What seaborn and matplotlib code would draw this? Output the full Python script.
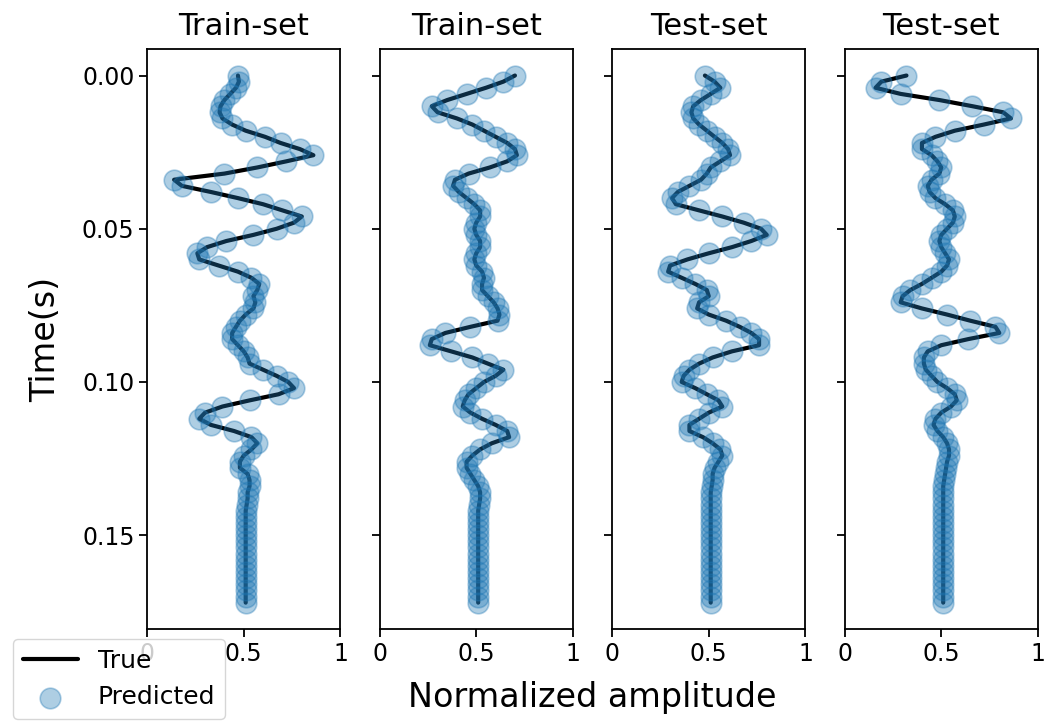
import numpy as np
import matplotlib.pyplot as plt
import seaborn as sns

# time axis: 2 ms sampling, 0 - 0.172 s
time_s = np.round(np.arange(87) * 0.002, 3)

titles = ['Train-set', 'Train-set', 'Test-set', 'Test-set']

# normalized amplitude of each trace
trace_1 = [0.47, 0.475, 0.46, 0.43, 0.40, 0.38, 0.375, 0.39, 0.44, 0.51,
           0.61, 0.69, 0.79, 0.86, 0.72, 0.57, 0.40, 0.14, 0.18, 0.33,
           0.47, 0.60, 0.70, 0.80, 0.76, 0.67, 0.55, 0.41, 0.31, 0.26,
           0.27, 0.37, 0.47, 0.54, 0.58, 0.57, 0.55, 0.56, 0.55, 0.51,
           0.48, 0.46, 0.44, 0.44, 0.47, 0.50, 0.52, 0.53, 0.60, 0.67,
           0.73, 0.76, 0.68, 0.53, 0.39, 0.30, 0.27, 0.33, 0.45, 0.54,
           0.57, 0.54, 0.50, 0.48, 0.48, 0.52, 0.53, 0.53, 0.52, 0.52,
           0.515, 0.51, 0.51, 0.51, 0.51, 0.51, 0.51, 0.51, 0.51, 0.51,
           0.51, 0.51, 0.51, 0.51, 0.51, 0.51, 0.51]

trace_2 = [0.70, 0.64, 0.55, 0.45, 0.35, 0.27, 0.30, 0.40, 0.48, 0.54,
           0.60, 0.66, 0.70, 0.71, 0.66, 0.57, 0.46, 0.39, 0.38, 0.41,
           0.45, 0.49, 0.52, 0.52, 0.50, 0.49, 0.50, 0.52, 0.52, 0.50,
           0.49, 0.50, 0.53, 0.54, 0.53, 0.53, 0.56, 0.59, 0.61, 0.62,
           0.61, 0.47, 0.34, 0.27, 0.26, 0.37, 0.48, 0.56, 0.64, 0.60,
           0.54, 0.50, 0.46, 0.44, 0.43, 0.47, 0.53, 0.60, 0.66, 0.67,
           0.58, 0.52, 0.48, 0.45, 0.45, 0.47, 0.49, 0.51, 0.52, 0.52,
           0.515, 0.51, 0.51, 0.51, 0.51, 0.51, 0.51, 0.51, 0.51, 0.51,
           0.51, 0.51, 0.51, 0.51, 0.51, 0.51, 0.51]

trace_3 = [0.48, 0.53, 0.56, 0.51, 0.46, 0.42, 0.41, 0.42, 0.45, 0.49,
           0.53, 0.57, 0.60, 0.61, 0.56, 0.51, 0.49, 0.46, 0.40, 0.34,
           0.31, 0.33, 0.45, 0.57, 0.68, 0.77, 0.80, 0.72, 0.62, 0.50,
           0.39, 0.30, 0.29, 0.36, 0.43, 0.49, 0.50, 0.45, 0.44, 0.50,
           0.59, 0.66, 0.72, 0.76, 0.76, 0.62, 0.52, 0.45, 0.40, 0.37,
           0.36, 0.43, 0.49, 0.55, 0.57, 0.50, 0.45, 0.40, 0.40, 0.47,
           0.52, 0.56, 0.57, 0.55, 0.53, 0.52, 0.52, 0.515, 0.51, 0.51,
           0.51, 0.51, 0.51, 0.51, 0.51, 0.51, 0.51, 0.51, 0.51, 0.51,
           0.51, 0.51, 0.51, 0.51, 0.51, 0.51, 0.51]

trace_4 = [0.32, 0.19, 0.16, 0.29, 0.49, 0.66, 0.82, 0.86, 0.72, 0.57,
           0.47, 0.40, 0.40, 0.45, 0.48, 0.50, 0.49, 0.45, 0.43, 0.44,
           0.47, 0.52, 0.56, 0.57, 0.56, 0.53, 0.50, 0.49, 0.50, 0.52,
           0.54, 0.53, 0.50, 0.45, 0.40, 0.34, 0.30, 0.29, 0.40, 0.53,
           0.65, 0.78, 0.80, 0.64, 0.50, 0.43, 0.41, 0.41, 0.42, 0.45,
           0.48, 0.53, 0.57, 0.58, 0.55, 0.50, 0.47, 0.46, 0.48, 0.51,
           0.53, 0.54, 0.54, 0.53, 0.525, 0.52, 0.515, 0.51, 0.51, 0.51,
           0.51, 0.51, 0.51, 0.51, 0.51, 0.51, 0.51, 0.51, 0.51, 0.51,
           0.51, 0.51, 0.51, 0.51, 0.51, 0.51, 0.51]

traces = [trace_1, trace_2, trace_3, trace_4]

sns.set_theme(style='ticks', rc={'axes.edgecolor': 'black',
                                 'axes.linewidth': 1.3,
                                 'text.color': 'black',
                                 'axes.labelcolor': 'black',
                                 'xtick.color': 'black',
                                 'ytick.color': 'black',
                                 'xtick.major.size': 5.5,
                                 'ytick.major.size': 5.5,
                                 'xtick.major.width': 1.3,
                                 'ytick.major.width': 1.3})
plt.rcParams['font.family'] = ['DejaVu Sans']

fig, axes = plt.subplots(1, 4, figsize=(10.45, 7.23), dpi=100, sharey=True)
fig.subplots_adjust(left=0.1407, right=0.9933, top=0.932, bottom=0.130, wspace=0.202)

for ax, title, amp in zip(axes, titles, traces):
    sns.lineplot(x=amp, y=time_s, sort=False, estimator=None, color='black',
                 linewidth=3, label='True', ax=ax, zorder=2)
    # predicted points drawn over the true line
    sns.scatterplot(x=amp, y=time_s, color='#1f77b4', s=220, alpha=0.36,
                    edgecolor='#1f77b4', linewidth=1.2, label='Predicted',
                    ax=ax, zorder=3)
    ax.set_title(title, fontsize=22, pad=10)
    ax.set_xlim(0, 1)
    ax.set_xticks([0, 0.5, 1])
    ax.set_xticklabels(['0', '0.5', '1'])
    ax.tick_params(labelsize=17)
    ax.set_xlabel('')
    ax.legend_.remove()

axes[0].set_yticks([0, 0.05, 0.10, 0.15])
axes[0].set_yticklabels(['0.00', '0.05', '0.10', '0.15'])
axes[0].invert_yaxis()
axes[0].set_ylabel('Time(s)', fontsize=24, labelpad=14)

fig.text(0.567, 0.035, 'Normalized amplitude', ha='center', va='center', fontsize=24)

handles, labels = axes[0].get_legend_handles_labels()
fig.legend(handles, labels, loc='lower left', bbox_to_anchor=(0.0, -0.012),
           fontsize=18, handlelength=2.2, framealpha=0.8)

fig.savefig('out.png', dpi=100)
